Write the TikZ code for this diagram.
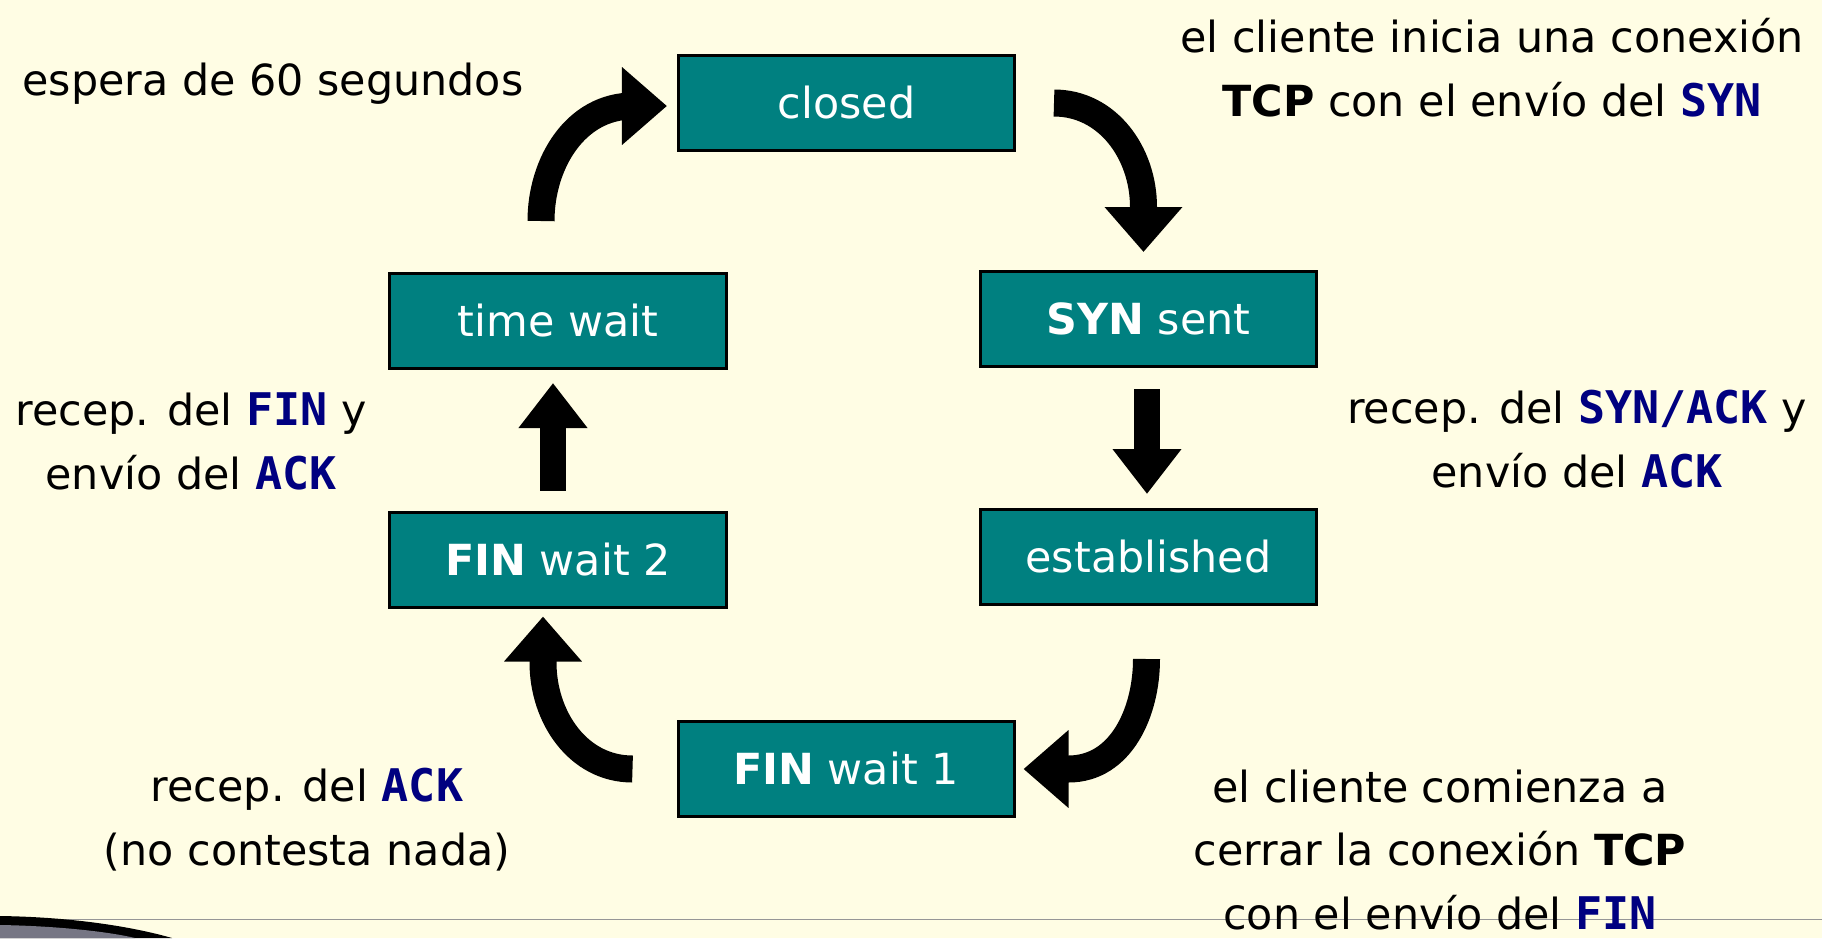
\documentclass[tikz,border=0pt]{standalone}
\usepackage{fontspec}
\setmainfont{DejaVu Sans}
\newfontfamily\codefont[Scale=1.05]{DejaVu Sans Mono}
\usetikzlibrary{arrows.meta,calc}
\definecolor{paper}{RGB}{255,253,228}
\definecolor{statefill}{RGB}{0,128,128}
\definecolor{keyword}{RGB}{0,0,128}
\definecolor{rulegray}{RGB}{150,150,150}
\definecolor{moon}{RGB}{118,118,132}
\newcommand{\kw}[1]{{\codefont\bfseries\color{keyword}#1}}
\tikzset{
    state/.style={draw=black, fill=statefill, line width=1.5bp, text=white,
        minimum width=168bp, minimum height=47.5bp, inner sep=0pt,
        font=\fontsize{21.5}{32.1}\selectfont},
    note/.style={align=center, inner sep=0pt, font=\fontsize{21.5}{32.1}\selectfont},
    curvedflow/.style={line width=13.5bp, -{Triangle[length=22.5bp, width=37.5bp]}},
    straightflow/.style={line width=13bp, -{Triangle[length=22.5bp, width=33bp]}},
}

\begin{document}
    \begin{tikzpicture}[x=0.5bp, y=0.5bp]
        \useasboundingbox (0,0) rectangle (1822,-938);
        \fill[paper] (0,0) rectangle (1822,-938);
        \draw[rulegray, line width=0.5bp] (0,-919) -- (1822,-919);
        \fill[black] (0,-916) .. controls (70,-917) and (130,-926) .. (172,-938) -- (0,-938) -- cycle;
        \fill[moon] (0,-925) .. controls (60,-926) and (110,-932) .. (135,-938) -- (0,-938) -- cycle;

        % states
        \draw (846.5,-103) node[state, name=closed] {closed};
        \draw (558,-321) node[state, name=timewait] {time wait};
        \draw (1148.5,-319) node[state, name=synsent] {\textbf{SYN} sent};
        \draw (558,-559.5) node[state, name=finwait2] {\textbf{FIN} wait 2};
        \draw (1148.5,-557) node[state, name=established] {established};
        \draw (846,-769) node[state, name=finwait1] {\textbf{FIN} wait 1};

        % transitions
        \draw[curvedflow] ($(closed.east)+(38,0)$) to[out=0,in=90] ($(synsent.north)+(-5,63)$) -- ($(synsent.north)+(-5,18)$);
        \draw[straightflow] ($(synsent.south)+(-1.5,-21)$) -- ($(established.north)+(-1.5,14)$);
        \draw[curvedflow] ($(established.south)+(-2,-53)$) to[out=-90,in=0] ($(finwait1.east)+(53,0)$) -- ($(finwait1.east)+(8,0)$);
        \draw[curvedflow] ($(finwait1.west)+(-44,0)$) to[out=180,in=-90] ($(finwait2.south)+(-15,-54)$) -- ($(finwait2.south)+(-15,-8)$);
        \draw[straightflow] ($(finwait2.north)+(-5,20)$) -- ($(timewait.south)+(-5,-13)$);
        \draw[curvedflow] ($(timewait.north)+(-17,51)$) to[out=90,in=180] ($(closed.west)+(-44,-3)$) -- ($(closed.west)+(-10,-3)$);

        % labels
        \draw (273,-84) node[note, name=wait60] {espera de 60 segundos};
        \draw (1492,-68) node[note, name=open] {el cliente inicia una conexión\\\textbf{TCP} con el envío del \kw{SYN}};
        \draw (191,-441) node[note, name=gotfin] {recep. del \kw{FIN} y\\envío del \kw{ACK}};
        \draw (1577,-439) node[note, name=gotsynack] {recep. del \kw{SYN/ACK} y\\envío del \kw{ACK}};
        \draw (307,-820) node[note, name=gotack] {recep. del \kw{ACK}\\(no contesta nada)};
        \draw (1440,-850) node[note, name=shut] {el cliente comienza a\\cerrar la conexión \textbf{TCP}\\con el envío del \kw{FIN}};
    \end{tikzpicture}
\end{document}
